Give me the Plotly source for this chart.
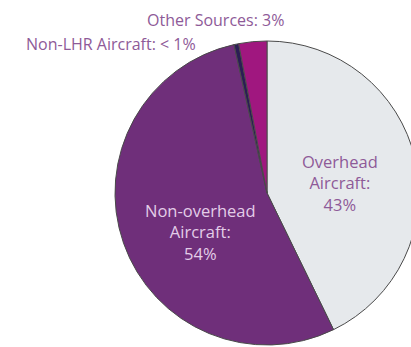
import plotly.graph_objects as go

# Noise source shares (percent)
sources = ["Overhead Aircraft", "Non-overhead Aircraft", "Non-LHR Aircraft", "Other Sources"]
shares = [43, 54, 0.5, 3]
share_labels = ["43%", "54%", "< 1%", "3%"]
colors = ["#e6e9ec", "#6f2f7a", "#2b1d55", "#a0177f"]

W, H = 425, 347
cx, cy, r = 267, 193, 152  # pie centre and radius in pixels

fig = go.Figure(go.Pie(
    labels=sources,
    values=shares,
    sort=False,
    direction="clockwise",
    rotation=0,
    marker=dict(colors=colors, line=dict(color="#4a4a4a", width=1)),
    textinfo="none",
    hoverinfo="label+percent",
    showlegend=False,
    domain=dict(x=[(cx - r) / W, (cx + r) / W],
                y=[(H - cy - r) / H, (H - cy + r) / H]),
))

label_font = "Open Sans, sans-serif"
txt_purple = "#8e5a98"

def ann(text, x, y, color, size=16):
    return dict(text=text, x=x / W, y=1 - y / H, xref="paper", yref="paper",
                showarrow=False, xanchor="center", yanchor="middle",
                font=dict(family=label_font, size=size, color=color), align="center")

fig.update_layout(
    width=W, height=H,
    margin=dict(l=0, r=0, t=0, b=0),
    paper_bgcolor="white",
    annotations=[
        ann(f"Other Sources: {share_labels[3]}", 215, 20, txt_purple, 16),
        ann(f"Non-LHR Aircraft: {share_labels[2]}", 111, 44, txt_purple, 16),
        ann(f"Overhead<br>Aircraft:<br>{share_labels[0]}", 340, 183, txt_purple, 16.5),
        ann(f"Non-overhead<br>Aircraft:<br>{share_labels[1]}", 200, 232, "#e3cde8", 16.5),
    ],
)

fig.write_html("out.html")
